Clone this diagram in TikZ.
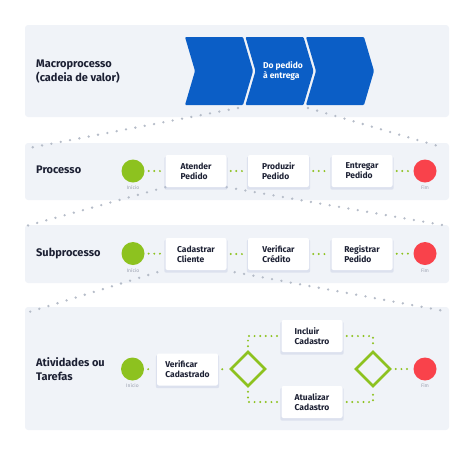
\documentclass[tikz,border=0pt]{standalone}
\usepackage{fontspec}
\setmainfont{Fira Sans}
\usetikzlibrary{shapes.geometric,shadows,positioning}
\definecolor{panelbg}{HTML}{F0F3F8}
\definecolor{chevblue}{HTML}{0B5EC6}
\definecolor{startgreen}{HTML}{8DC21F}
\definecolor{endred}{HTML}{F9424B}
\definecolor{dotgray}{HTML}{B5BCC8}
\definecolor{textdark}{HTML}{1C2033}
\definecolor{labelgray}{HTML}{9BA1B0}
\definecolor{shadowblue}{HTML}{B8C2DC}
\pgfdeclarelayer{panels}
\pgfdeclarelayer{funnel}
\pgfsetlayers{panels,funnel,main}
\tikzset{
  panel/.style={fill=panelbg,rounded corners=3pt,minimum width=424pt,inner sep=0pt},
  lbl/.style={anchor=west,align=left,inner sep=0pt,text=textdark,font=\bfseries\fontsize{11}{14.5}\selectfont},
  task/.style={fill=white,rounded corners=2pt,minimum width=61pt,minimum height=32pt,align=left,
    text=textdark,font=\bfseries\fontsize{8.5}{10}\selectfont,
    general shadow={fill=shadowblue,opacity=0.35,shadow xshift=0pt,shadow yshift=-2pt,shadow scale=1.04}},
  start/.style={circle,fill=startgreen,minimum size=23pt,inner sep=0pt},
  stop/.style={circle,fill=endred,minimum size=23pt,inner sep=0pt},
  gate/.style={diamond,draw=startgreen,line width=2.6pt,minimum width=35pt,minimum height=35pt,inner sep=0pt},
  tag/.style={inner sep=0.5pt,text=labelgray,font=\fontsize{5}{6}\selectfont},
  link/.style={draw=startgreen,line width=2.2pt,line cap=round,dash pattern=on 0pt off 5.6pt,shorten >=4pt,shorten <=4pt},
  funnelline/.style={draw=dotgray,line width=2.6pt,line cap=round,dash pattern=on 0pt off 9.5pt}
}
\begin{document}
\begin{tikzpicture}[x=1pt,y=-1pt]
\useasboundingbox (0,0) rectangle (474,459);
\begin{pgfonlayer}{panels}
  \node[panel,minimum height=92pt] (macro) at (237,71) {};
  \node[panel,minimum height=57pt] (proc) at (237,171.5) {};
  \node[panel,minimum height=58pt] (sub) at (237,254) {};
  \node[panel,minimum height=123pt] (ativ) at (237,368.5) {};
\end{pgfonlayer}

% macroprocesso
\node[lbl] (lmacro) at (36,71.5) {Macroprocesso\\(cadeia de valor)};
\foreach \x in {185,245.5,306}
  \fill[chevblue,rounded corners=1pt] (\x,37) -- ++(58,0) -- ++(10,34) -- ++(-10,34) -- ++(-58,0) -- ++(10,-34) -- cycle;
\node[align=left,text=white,font=\bfseries\fontsize{8.5}{10}\selectfont] (cadeia) at (283,71) {Do pedido\\à entrega};
\coordinate (c1) at (238,108);
\coordinate (c2) at (308,108);

% processo
\node[lbl] (lproc) at (36,170) {Processo};
\node[start] (ini1) at (133,171) {};
\node[tag,below=2.5pt of ini1] (tini1) {Início};
\node[task] (atender) at (196,171) {Atender\\Pedido};
\node[task] (produzir) at (278.5,171) {Produzir\\Pedido};
\node[task] (entregar) at (362,171) {Entregar\\Pedido};
\node[stop] (fim1) at (425,171) {};
\node[tag,below=2.5pt of fim1] (tfim1) {Fim};
\draw[link] (ini1) -- (atender);
\draw[link] (atender) -- (produzir);
\draw[link] (produzir) -- (entregar);
\draw[link] (entregar) -- (fim1);

% subprocesso
\node[lbl] (lsub) at (36,253.5) {Subprocesso};
\node[start] (ini2) at (133,253.5) {};
\node[tag,below=2.5pt of ini2] (tini2) {Início};
\node[task] (cadastrar) at (196,254) {Cadastrar\\Cliente};
\node[task] (verificar) at (278.5,254) {Verificar\\Crédito};
\node[task] (registrar) at (362,254) {Registrar\\Pedido};
\node[stop] (fim2) at (425,253.5) {};
\node[tag,below=2.5pt of fim2] (tfim2) {Fim};
\draw[link] (ini2) -- (cadastrar);
\draw[link] (cadastrar) -- (verificar);
\draw[link] (verificar) -- (registrar);
\draw[link] (registrar) -- (fim2);

% atividades
\node[lbl] (lativ) at (36,369) {Atividades ou\\Tarefas};
\node[start] (ini3) at (132.5,369) {};
\node[tag,below=2.5pt of ini3] (tini3) {Início};
\node[task] (vercad) at (187.5,369.5) {Verificar\\Cadastrado};
\node[gate] (d1) at (248,369) {};
\node[task] (incluir) at (312,336) {Incluir\\Cadastro};
\node[task] (atualizar) at (312,402) {Atualizar\\Cadastro};
\node[gate] (d2) at (373,369) {};
\node[stop] (fim3) at (425,369) {};
\node[tag,below=2.5pt of fim3] (tfim3) {Fim};
\draw[link] (ini3) -- (vercad);
\draw[link] (vercad) -- (d1);
\draw[link] (d1.north) |- (incluir);
\draw[link] (incluir) -| (d2.north);
\draw[link] (d1.south) |- (atualizar);
\draw[link] (atualizar) -| (d2.south);
\draw[link] (d2) -- (fim3);

\begin{pgfonlayer}{funnel}
  \draw[funnelline] (c1) -- ([shift={(5,5)}]proc.north west);
  \draw[funnelline] (c2) -- ([shift={(-5,5)}]proc.north east);
  \draw[funnelline] (atender.south west) -- ([shift={(2,1)}]sub.north west);
  \draw[funnelline] (atender.south east) -- ([shift={(-2,1)}]sub.north east);
  \draw[funnelline] ([shift={(-8,2)}]cadastrar.south west) -- ([shift={(5,5)}]ativ.north west);
  \draw[funnelline] ([shift={(8,2)}]cadastrar.south east) -- ([shift={(-6,4)}]ativ.north east);
\end{pgfonlayer}
\end{tikzpicture}
\end{document}
